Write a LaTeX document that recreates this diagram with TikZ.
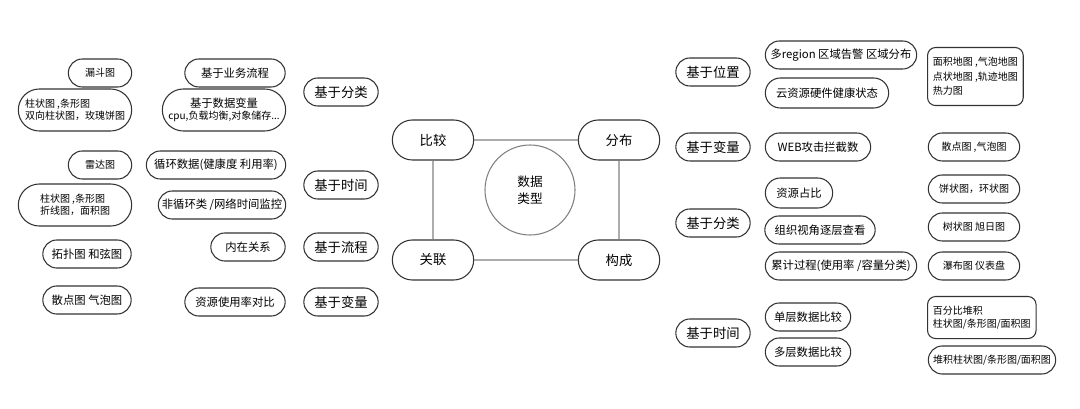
\documentclass[tikz,border=0pt]{standalone}
\usepackage{fontspec}
\setmainfont{Noto Sans CJK SC}
\usetikzlibrary{shapes.misc}
\tikzset{
  pill/.style={draw=black!80, line width=0.8pt, rounded rectangle, inner sep=1pt, font=\fontsize{7.5}{9}\selectfont, align=center},
  bigpill/.style={pill, font=\fontsize{10}{12}\selectfont},
  boxnote/.style={draw=black!80, line width=0.8pt, rounded corners=6pt, inner sep=4pt, font=\fontsize{7.5}{11}\selectfont, align=left, anchor=north west},
  wh/.style 2 args={minimum width=#1*0.75pt, minimum height=#2*0.75pt},
}
\begin{document}
\begin{tikzpicture}[x=0.75pt, y=-0.75pt]
    \useasboundingbox (0,0) rectangle (1080,409);
    % centre and the four types
    \node[draw=black!50, line width=0.8pt, circle, minimum size=90*0.75pt, align=center, font=\fontsize{9.5}{13}\selectfont] (type) at (530,190) {数据\\类型};
    \node[bigpill, wh={84}{40}, fill=white] (cmp) at (433,140) {比较};
    \node[bigpill, wh={84}{40}, fill=white] (dist) at (619,140) {分布};
    \node[bigpill, wh={84}{40}, fill=white] (rel) at (433,260) {关联};
    \node[bigpill, wh={84}{40}, fill=white] (comp) at (619,260) {构成};
    \draw[black!50, line width=0.8pt] (cmp) -- (dist) (dist) -- (comp) (comp) -- (rel) (rel) -- (cmp);

    % left: categories
    \node[bigpill, wh={77}{28}] (lcls) at (341,92) {基于分类};
    \node[bigpill, wh={77}{28}] (ltime) at (341,185) {基于时间};
    \node[bigpill, wh={77}{28}] (lflow) at (341,247) {基于流程};
    \node[bigpill, wh={77}{28}] (lvar) at (341,302) {基于变量};
    % left: data
    \node[pill, wh={103}{28}, font=\fontsize{8.5}{10}\selectfont] (biz) at (235,73) {基于业务流程};
    \node[pill, wh={126}{42}] (dvar) at (224,110) {{\fontsize{8.5}{10}\selectfont 基于数据变量}\\cpu,负载均衡,对象储存...};
    \node[pill, wh={142}{28}, font=\fontsize{8.5}{10}\selectfont] (cyc) at (216,165) {循环数据(健康度 利用率)};
    \node[pill, wh={130}{28}, font=\fontsize{8.5}{10}\selectfont] (ncyc) at (222,205) {非循环类 /网络时间监控};
    \node[pill, wh={77}{28}, font=\fontsize{8.5}{10}\selectfont] (inner) at (248,247) {内在关系};
    \node[pill, wh={103}{28}, font=\fontsize{8.5}{10}\selectfont] (res) at (235,302) {资源使用率对比};
    % left: charts
    \node[pill, wh={66}{28}] (funnel) at (100,73) {漏斗图};
    \node[pill, wh={116}{42}, align=left] (bar1) at (75,110) {柱状图 ,条形图\\双向柱状图，玫瑰饼图};
    \node[pill, wh={66}{28}] (radar) at (100,165) {雷达图};
    \node[pill, wh={116}{42}, align=left] (bar2) at (75,205) {柱状图 ,条形图\\折线图，面积图};
    \node[pill, wh={91}{28}, font=\fontsize{8.5}{10}\selectfont] (topo) at (87,254) {拓扑图 和弦图};
    \node[pill, wh={91}{28}, font=\fontsize{8.5}{10}\selectfont] (scat) at (87,300) {散点图 气泡图};

    % right: categories
    \node[bigpill, wh={77}{28}] (rpos) at (713,72) {基于位置};
    \node[bigpill, wh={77}{28}] (rvar) at (713,147) {基于变量};
    \node[bigpill, wh={77}{28}] (rcls) at (713,223) {基于分类};
    \node[bigpill, wh={77}{28}] (rtime) at (713,333) {基于时间};
    % right: data
    \node[pill, wh={154}{28}, font=\fontsize{8.5}{10}\selectfont] (region) at (841,55) {多region 区域告警 区域分布};
    \node[pill, wh={126}{30}, font=\fontsize{8.5}{10}\selectfont] (cloud) at (827,93) {云资源硬件健康状态};
    \node[pill, wh={108}{28}, font=\fontsize{8.5}{10}\selectfont] (web) at (818,147) {WEB攻击拦截数};
    \node[pill, wh={70}{30}, font=\fontsize{8.5}{10}\selectfont] (share) at (799,193) {资源占比};
    \node[pill, wh={113}{28}, font=\fontsize{8.5}{10}\selectfont] (org) at (820,230) {组织视角逐层查看};
    \node[pill, wh={154}{28}, font=\fontsize{8.5}{10}\selectfont] (acc) at (841,266) {累计过程(使用率 /容量分类)};
    \node[pill, wh={88}{28}, font=\fontsize{8.5}{10}\selectfont] (single) at (808,317) {单层数据比较};
    \node[pill, wh={88}{28}, font=\fontsize{8.5}{10}\selectfont] (multi) at (808,352) {多层数据比较};
    % right: charts
    \node[boxnote, wh={94}{58}] (maps) at (927,47) {面积地图 ,气泡地图\\点状地图 ,轨迹地图\\热力图};
    \node[pill, wh={94}{28}] (rscat) at (974,147) {散点图 ,气泡图};
    \node[pill, wh={94}{28}] (pie) at (974,189) {饼状图，环状图};
    \node[pill, wh={94}{28}] (tree) at (974,227) {树状图 旭日图};
    \node[pill, wh={94}{28}] (fall) at (974,266) {瀑布图 仪表盘};
    \node[boxnote, wh={107}{42}, font=\fontsize{7.5}{10}\selectfont] (pct) at (927,296) {百分比堆积\\柱状图/条形图/面积图};
    \node[pill, wh={130}{28}] (stack) at (992,360) {堆积柱状图/条形图/面积图};
\end{tikzpicture}
\end{document}
